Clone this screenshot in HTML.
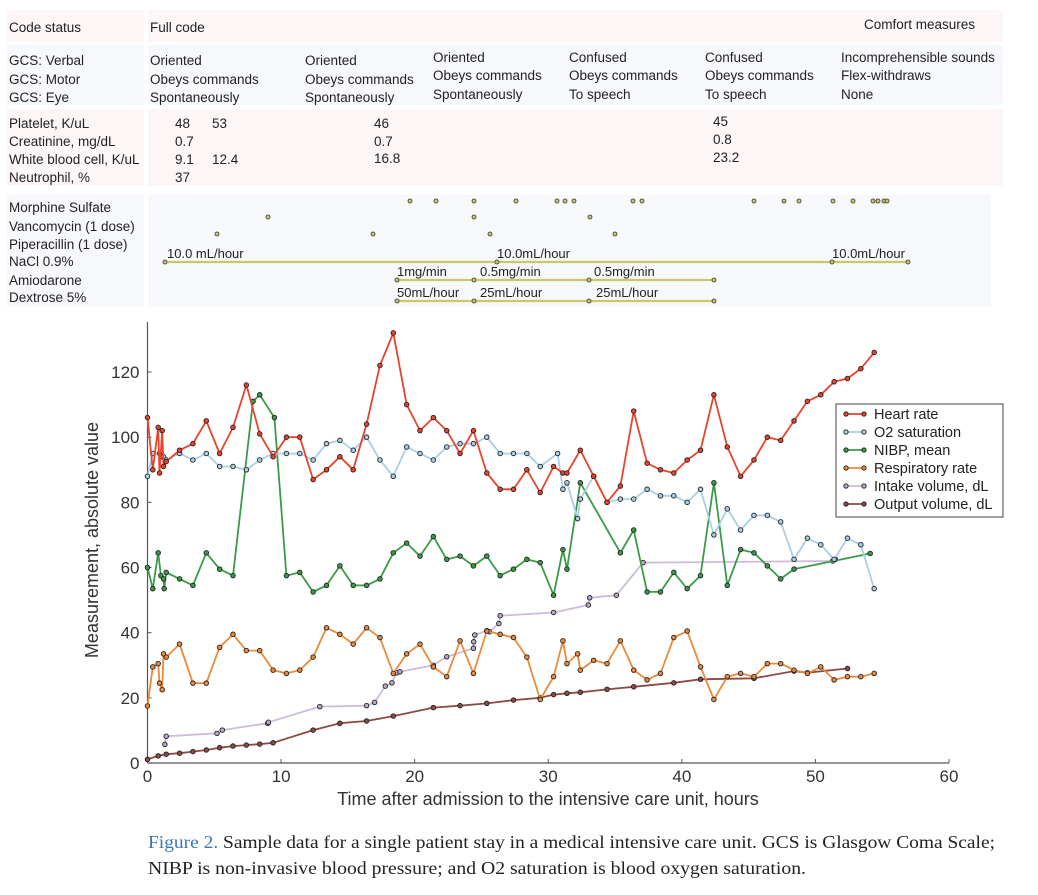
<!DOCTYPE html>
<html><head><meta charset="utf-8"><style>
html,body{margin:0;padding:0;background:#fff;}
svg{display:block;font-family:"Liberation Sans",Arial,sans-serif;}
.t{font-size:13.5px;fill:#222;}
.tk{font-size:17px;fill:#333;}
</style></head><body>
<svg id="root" width="1038" height="895" viewBox="0 0 1038 895">
<rect x="7" y="10" width="137" height="32" fill="#fcf6f7"/>
<rect x="148" y="10" width="855" height="32" fill="#fcf6f7"/>
<rect x="7" y="45" width="137" height="60" fill="#f7f8fb"/>
<rect x="148" y="45" width="855" height="60" fill="#f7f8fb"/>
<rect x="7" y="109" width="137" height="77" fill="#fcf6f7"/>
<rect x="148" y="109" width="855" height="77" fill="#fcf6f7"/>
<rect x="7" y="195" width="137" height="112" fill="#f7f8fb"/>
<rect x="148" y="195" width="843" height="112" fill="#f7f8fb"/>

<g class="t">
<text x="9" y="32">Code status</text>
<text x="150" y="32">Full code</text>
<text x="864" y="29">Comfort measures</text>
</g>
<g class="t">
<text x="9" y="65">GCS: Verbal</text>
<text x="9" y="84">GCS: Motor</text>
<text x="9" y="102">GCS: Eye</text>
<text x="150" y="65"><tspan x="150">Oriented</tspan><tspan x="150" y="84">Obeys commands</tspan><tspan x="150" y="102">Spontaneously</tspan></text>
<text x="305" y="65"><tspan x="305">Oriented</tspan><tspan x="305" y="84">Obeys commands</tspan><tspan x="305" y="102">Spontaneously</tspan></text>
<text x="433" y="62"><tspan x="433">Oriented</tspan><tspan x="433" y="80">Obeys commands</tspan><tspan x="433" y="99">Spontaneously</tspan></text>
<text x="569" y="62"><tspan x="569">Confused</tspan><tspan x="569" y="80">Obeys commands</tspan><tspan x="569" y="99">To speech</tspan></text>
<text x="705" y="62"><tspan x="705">Confused</tspan><tspan x="705" y="80">Obeys commands</tspan><tspan x="705" y="99">To speech</tspan></text>
<text x="841" y="62"><tspan x="841">Incomprehensible sounds</tspan><tspan x="841" y="80">Flex-withdraws</tspan><tspan x="841" y="99">None</tspan></text>
</g>
<g class="t">
<text x="9" y="128">Platelet, K/uL</text>
<text x="9" y="146">Creatinine, mg/dL</text>
<text x="9" y="164">White blood cell, K/uL</text>
<text x="9" y="182">Neutrophil, %</text>
<text x="175" y="128"><tspan x="175">48</tspan><tspan x="175" y="146">0.7</tspan><tspan x="175" y="164">9.1</tspan><tspan x="175" y="182">37</tspan></text>
<text x="212" y="128"><tspan x="212">53</tspan><tspan x="212" y="164">12.4</tspan></text>
<text x="374" y="128"><tspan x="374">46</tspan><tspan x="374" y="146">0.7</tspan><tspan x="374" y="163">16.8</tspan></text>
<text x="713" y="126"><tspan x="713">45</tspan><tspan x="713" y="144">0.8</tspan><tspan x="713" y="162">23.2</tspan></text>
</g>
<g class="t">
<text x="9" y="212">Morphine Sulfate</text>
<text x="9" y="231">Vancomycin (1 dose)</text>
<text x="9" y="249">Piperacillin (1 dose)</text>
<text x="9" y="266">NaCl 0.9%</text>
<text x="9" y="285">Amiodarone</text>
<text x="9" y="302">Dextrose 5%</text>
</g>
<g id="meds"></g>

<g id="chart"></g>

<g>
<rect x="836" y="404" width="167" height="113" fill="#fff" stroke="#444" stroke-width="1"/>
<g id="legend"></g>
</g>

<text x="98" y="540" transform="rotate(-90 98 540)" text-anchor="middle" style="font-size:18px;fill:#333">Measurement, absolute value</text>
<text x="548" y="805" text-anchor="middle" style="font-size:18px;fill:#333">Time after admission to the intensive care unit, hours</text>

<g style="font-family:'Liberation Serif',serif;font-size:17.5px;fill:#222">
<text x="148" y="848" textLength="847" lengthAdjust="spacingAndGlyphs"><tspan style="fill:#3a78b5">Figure 2.</tspan> Sample data for a single patient stay in a medical intensive care unit. GCS is Glasgow Coma Scale;</text>
<text x="148" y="874" textLength="658" lengthAdjust="spacingAndGlyphs">NIBP is non-invasive blood pressure; and O2 saturation is blood oxygen saturation.</text>
</g>
</svg>
<script>
const NS="http://www.w3.org/2000/svg";
const xTicks=[0,10,20,30,40,50,60];
const yTicks=[0,20,40,60,80,100,120];
const seriesNames=["Heart rate","O2 saturation","NIBP, mean","Respiratory rate","Intake volume, dL","Output volume, dL"];
const hrX=[0,0.4,0.8,0.9,1.1,1.2,1.4,2.4,3.4,4.4,5.4,6.4,7.4,8.4,9.4,10.4,11.4,12.4,13.4,14.4,15.4,16.4,17.4,18.4,19.4,20.4,21.4,22.4,23.4,24.4,25.4,26.4,27.4,28.4,29.4,30.4,31.1,31.4,32.4,33.4,34.4,35.4,36.4,37.4,38.4,39.4,40.4,41.4,42.4,43.4,44.4,45.4,46.4,47.4,48.4,49.4,50.4,51.4,52.4,53.4,54.4];
const hrY=[106,90,103,89,102,91,92.5,96,98,105,95,103,116,101,94,100,100,87,90,94,90,104,122,132,110,102,106,102,95,102,89,84,84,90,83,91,89,89,96,88,80,85,108,92,90,89,93,96,113,97,88,93,100,99,105,111,113,117,118,121,126];
const o2X=[0,0.4,0.9,1.1,1.2,1.4,2.4,3.4,4.4,5.4,6.4,7.4,8.4,9.4,10.4,11.4,12.4,13.4,14.4,15.4,16.4,17.4,18.4,19.4,20.4,21.4,22.4,23.4,24.4,25.4,26.4,27.4,28.4,29.4,30.7,31.1,31.4,32.2,32.4,33.4,34.4,35.4,36.4,37.4,38.4,39.4,40.4,41.4,42.4,43.4,44.4,45.4,46.4,47.4,48.4,49.4,50.4,51.4,52.4,53.4,54.4];
const o2Y=[88,95,95,94,94,93,95,93,95,91,91,90,93,95,95,95,93,98,99,96,100,93,88,97,95,93,97,98,98,100,95,95,95,91,95,84,86,75,81,88,80,81,81,84,82,82,80,84,70,78,71.5,76,76,74,62.5,69,67,62.5,69,67,53.5];
const nibpX=[0,0.4,0.8,1.0,1.2,1.25,1.4,2.4,3.4,4.4,5.4,6.4,7.9,8.4,9.5,10.4,11.4,12.4,13.4,14.4,15.4,16.4,17.4,18.4,19.4,20.4,21.4,22.4,23.4,24.4,25.4,26.4,27.4,28.4,29.4,30.4,31.1,31.4,32.4,35.4,36.4,37.4,38.4,39.4,40.4,41.4,42.4,43.4,44.4,45.4,46.4,47.4,48.4,54.1];
const nibpY=[60,53.5,64.5,57.5,56.5,53.5,58.5,56.5,54.5,64.5,59.5,57.5,111,113,106,57.5,58.5,52.5,54.5,60.5,54.5,54.5,56.5,64.5,67.5,63.5,69.5,62.5,63.5,60.5,63.5,57.5,59.5,62.5,61.5,51.5,65.5,59.5,86,64.5,71.5,52.5,52.5,58.5,53.5,57.5,86,54.5,65.5,64.5,60.5,56.5,59.5,64.3];
const rrX=[0,0.4,0.8,0.9,1.1,1.2,1.4,2.4,3.4,4.4,5.4,6.4,7.4,8.4,9.4,10.4,11.4,12.4,13.4,14.4,15.4,16.4,17.4,18.4,19.4,20.4,21.4,22.4,23.4,24.4,25.4,26.4,27.4,28.4,29.4,30.4,31.1,31.4,32.2,32.4,33.4,34.4,35.4,36.4,37.4,38.4,39.4,40.4,41.4,42.4,43.4,44.4,45.4,46.4,47.4,48.4,49.4,50.4,51.4,52.4,53.4,54.4];
const rrY=[17.5,29.5,30.5,24.5,22.5,33.5,32.5,36.5,24.5,24.5,35.5,39.5,34.5,34.5,28.5,27.5,28.5,32.5,41.5,39.5,36.5,41.5,38.5,27.5,33.5,36.5,29.5,26.5,37.5,27.5,40.5,39.5,38.5,32.5,19.5,26.5,37.5,30.5,33.5,28.5,31.5,30.5,37.5,28.5,25.5,27.5,38.5,40.5,29.5,19.5,26.5,27.5,26.5,30.5,30.5,28.5,27.5,29.5,25.5,26.5,26.5,27.5];
const inX=[1.3,1.4,5.2,5.6,9.0,9.05,12.9,16.4,17.0,17.8,18.3,18.65,18.9,21.4,22.4,24.4,24.42,24.5,25.4,25.6,26.3,26.4,30.4,33.0,33.1,35.1,37.1,51.3,51.5];
const inY=[5.7,8.2,9.1,10.1,12.2,12.5,17.3,17.6,18.6,23.6,24.6,27.7,28,30,32.6,35.2,37.2,39.3,40.6,40.3,42.8,45.2,46.2,48.5,50.7,51.5,61.5,62,62.5];
const outX=[0,0.8,1.4,2.4,3.4,4.4,5.4,6.4,7.4,8.4,9.4,12.4,14.4,16.4,18.4,21.4,23.4,25.4,27.4,29.4,30.4,31.4,32.4,34.4,36.4,39.4,41.4,45.4,48.4,49.4,52.4];
const outY=[1.1,2.2,2.7,3,3.5,4,4.7,5.2,5.5,5.8,6.2,10.1,12.2,12.9,14.4,17,17.6,18.3,19.3,20,21,21.4,21.7,22.6,23.4,24.6,25.7,26,28.2,27.7,29];
const lineColors=["#e8432c","#a9cfe6","#3a9b47","#ea8a3a","#cdbbdc","#8c4a43"];
const fillColors=["#e8432c","#a9cfe6","#3a9b47","#ea8a3a","#b8a6cc","#8c4a43"];

const X0=147.5,X1=949,Y0=763,Y120=372;
function xs(v){return X0+(X1-X0)*v/60;}
function ys(v){return Y0-(Y0-Y120)*v/120;}
function mk(tag,attrs,parent){const e=document.createElementNS(NS,tag);for(const k in attrs)e.setAttribute(k,attrs[k]);parent.appendChild(e);return e;}

const chart=document.getElementById('chart');
let ax=mk('line',{x1:X0,y1:322,x2:X0,y2:Y0,stroke:'#555','stroke-width':1.2},chart);


let bx=mk('line',{x1:X0,y1:Y0,x2:X1,y2:Y0,stroke:'#555','stroke-width':1.2},chart);


xTicks.forEach(t=>{
  const l=mk('line',{x1:xs(t),y1:Y0,x2:xs(t),y2:Y0-4,stroke:'#555'},chart);
  
  
  const tx=mk('text',{x:xs(t),y:Y0+19,'text-anchor':'middle',class:'tk'},chart);
  tx.textContent=t;
  
  
});
yTicks.forEach(t=>{
  const l=mk('line',{x1:X0,y1:ys(t),x2:X0+4,y2:ys(t),stroke:'#555'},chart);
  
  
  const tx=mk('text',{x:X0-8,y:ys(t)+6,'text-anchor':'end',class:'tk'},chart);
  tx.textContent=t;
  
  
});
const allX=[hrX,o2X,nibpX,rrX,inX,outX], allY=[hrY,o2Y,nibpY,rrY,inY,outY];
const order=[4,5,3,2,1,0];
const slugs=['heart-rate','o2-saturation','nibp-mean','respiratory-rate','intake-volume','output-volume'];
order.forEach(i=>{
  const g=mk('g',{},chart);
  
  
  const pts=allX[i].map((x,j)=>xs(x).toFixed(1)+','+ys(allY[i][j]).toFixed(1)).join(' ');
  const pl=mk('polyline',{points:pts,fill:'none',stroke:lineColors[i],'stroke-width':1.8,'stroke-linejoin':'round'},g);
  
  
  allX[i].forEach((x,j)=>{
    const c=mk('circle',{cx:xs(x),cy:ys(allY[i][j]),r:2.3,fill:fillColors[i],stroke:'#222','stroke-width':0.9},g);
    
    
  });
});
const lg=document.getElementById('legend');
seriesNames.forEach((n,i)=>{
  const y=414+i*18;
  const l=mk('line',{x1:846,y1:y,x2:864,y2:y,stroke:lineColors[i],'stroke-width':1.8},lg);
  
  
  [846,864].forEach(cx=>{const c=mk('circle',{cx:cx,cy:y,r:2.2,fill:fillColors[i],stroke:'#222','stroke-width':0.9},lg);
    
    });
  const t=mk('text',{x:874,y:y+5,style:'font-size:14.5px;fill:#222'},lg);
  t.textContent=n;
  
  
});

const meds=document.getElementById('meds');
const morphineX=[410,436,474,516,557,565,574,633,642,754,784,799,833,853,873,878,884,887];
const vancoX=[268,474,590];
const piperX=[217,373,490,615];
function dot(x,y,name){const c=mk('circle',{cx:x,cy:y,r:2,fill:'#c9c96a',stroke:'#333','stroke-width':0.8},meds);
  
  }
morphineX.forEach(x=>dot(x,201,'morphine-dose'));
vancoX.forEach(x=>dot(x,217,'vancomycin-dose'));
piperX.forEach(x=>dot(x,234,'piperacillin-dose'));
const infusions=[
 {y:262,nodes:[165,497,832,908],labels:[[167,'10.0 mL/hour'],[497,'10.0mL/hour'],[832,'10.0mL/hour']],name:'nacl-infusion'},
 {y:280,nodes:[397,474,589,714],labels:[[397,'1mg/min'],[480,'0.5mg/min'],[594,'0.5mg/min']],name:'amiodarone-infusion'},
 {y:301,nodes:[397,474,589,714],labels:[[397,'50mL/hour'],[480,'25mL/hour'],[596,'25mL/hour']],name:'dextrose-infusion'}
];
infusions.forEach(f=>{
  const l=mk('line',{x1:f.nodes[0],y1:f.y,x2:f.nodes[f.nodes.length-1],y2:f.y,stroke:'#c9c96a','stroke-width':2.2},meds);
  
  
  f.nodes.forEach(x=>dot(x,f.y,f.name+'-node'));
  f.labels.forEach(([x,s])=>{const t=mk('text',{x:x,y:f.y-4,class:'t',style:'font-size:13px'},meds);t.textContent=s;
    
    });
});
</script>
</body></html>
